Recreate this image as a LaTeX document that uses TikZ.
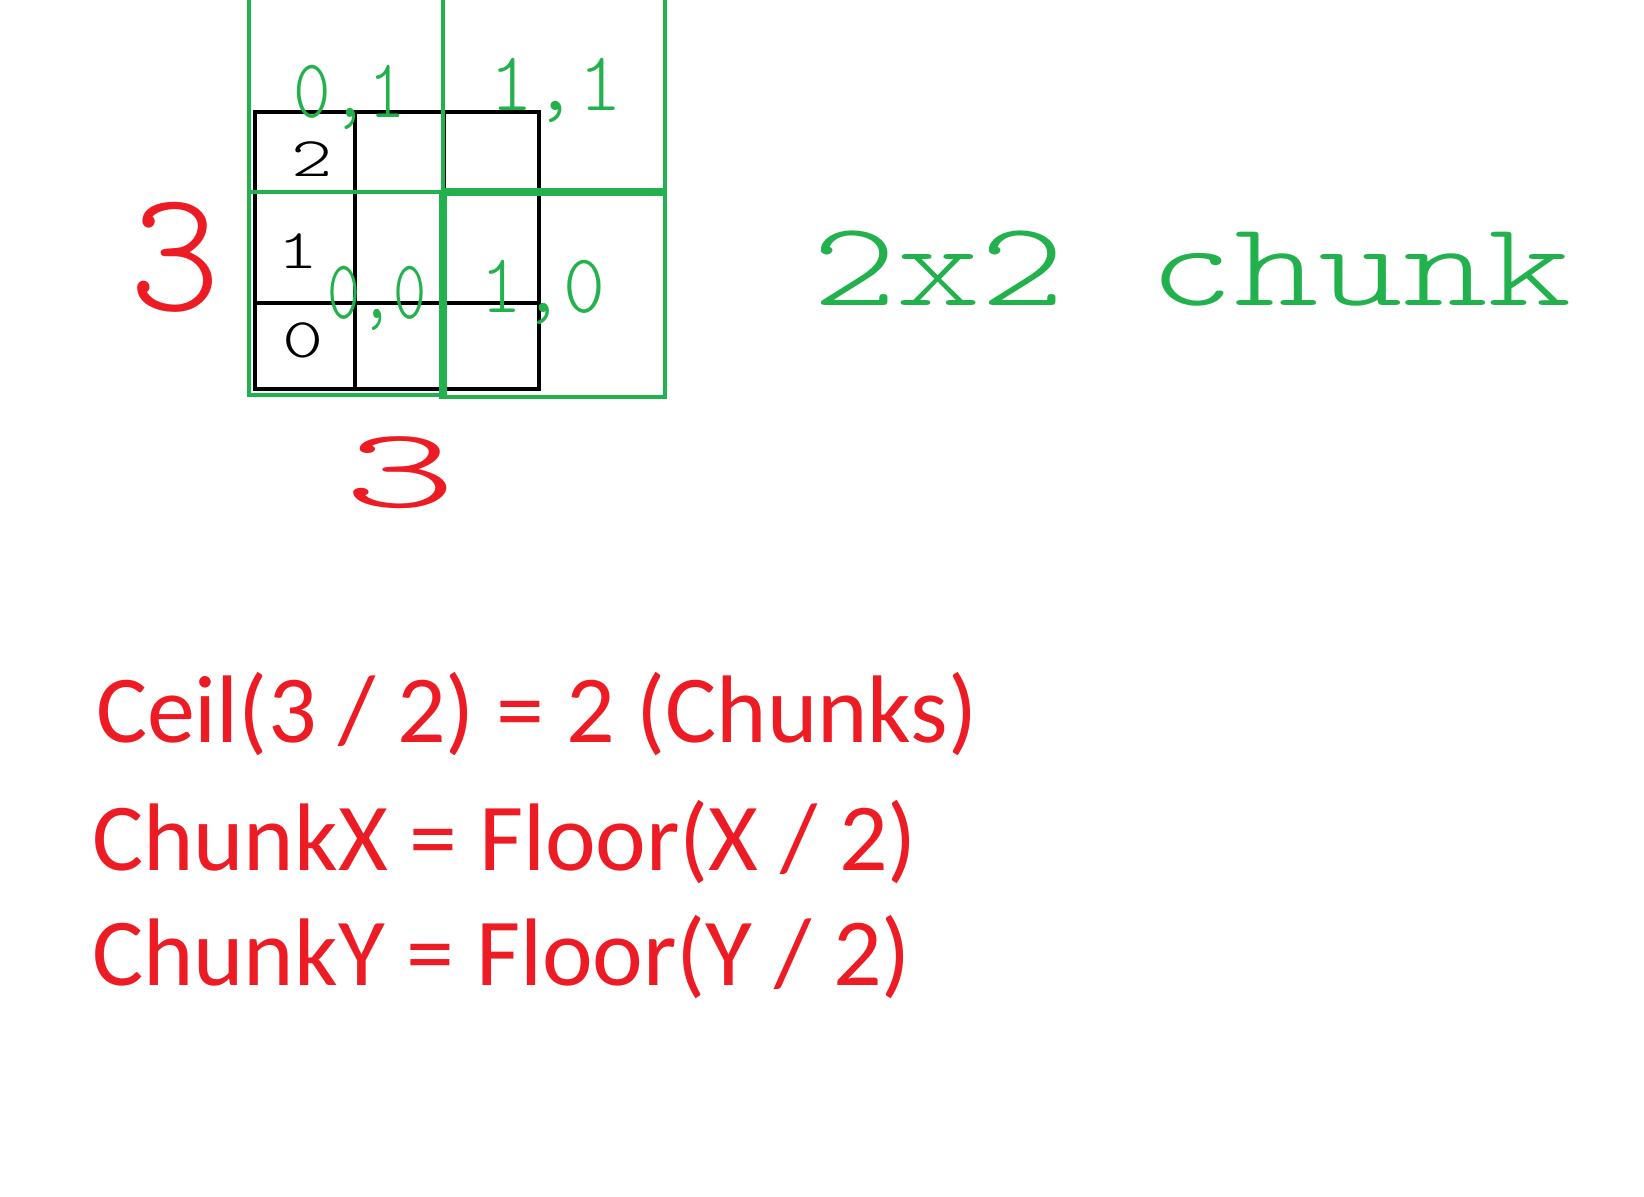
\documentclass[tikz,border=0pt]{standalone}
\usepackage{fontspec}
\setmainfont{Carlito}
\newfontfamily\handfont{lmmonolt10-regular}[Extension=.otf]
\usetikzlibrary{positioning}
\definecolor{paintred}{HTML}{ED1C24}
\definecolor{paintgreen}{HTML}{22B14C}

\begin{document}
\begin{tikzpicture}[
  x=0.5pt, y=-0.5pt,
  every node/.style={inner sep=0pt, outer sep=0pt},
  cellline/.style={draw=black, line width=2.2pt},
  chunkline/.style={draw=paintgreen, line width=2.4pt},
  thickchunk/.style={draw=paintgreen, line width=3.8pt},
  cellnum/.style={anchor=base, xscale=1.4,
    font=\handfont\fontsize{28}{28}\selectfont},
  chunknum/.style={anchor=base, text=paintgreen,
    font=\handfont\fontsize{42}{42}\selectfont},
  sizenum/.style={anchor=base, text=paintred, font=\handfont},
  formula/.style={anchor=base west, text=paintred,
    font=\fontsize{48}{58}\selectfont}
]

\fill[white] (0,0) rectangle (1644,1196);
\useasboundingbox (0,0) rectangle (1644,1196);

% cells
\draw[cellline] (255,112) rectangle (539,389);
\draw[cellline] (355,112) -- (355,389);
\draw[cellline] (444,112) -- (444,389);
\draw[cellline] (255,192) -- (539,192);
\draw[cellline] (255,303) -- (539,303);

% chunks
\draw[chunkline] (249,-5) -- (249,397);
\draw[chunkline] (443,-5) -- (443,192);
\draw[thickchunk] (443,192) -- (443,399);
\draw[chunkline] (665,-5) -- (665,399);
\draw[chunkline] (247,192) -- (443,192);
\draw[thickchunk] (443,192) -- (667,192);
\draw[chunkline] (247,395) -- (443,395);
\draw[chunkline] (443,397) -- (667,397);

\node[cellnum] (row2) at (312,176) {2};
\node[cellnum] (row1) at (298,268) {1};
\node[cellnum] (row0) at (303,357) {0};

\node[chunknum, xscale=0.85] (c01) at (350,117) {0,1};
\node[chunknum] (c11) at (556,110) {1,1};
\node[chunknum, xscale=0.75] (c00) at (377,318) {0,0};
\node[chunknum, xscale=0.95] (c10) at (543,312) {1,0};

\node[sizenum, font=\handfont\fontsize{87}{87}\selectfont] (height) at (175,310) {3};
\node[sizenum, xscale=1.9, font=\handfont\fontsize{57}{57}\selectfont] (width) at (400,507) {3};

\node[anchor=base, text=paintgreen, xscale=1.34,
  font=\handfont\fontsize{60}{60}\selectfont] (chunksize) at (1192,305) {2x2 chunk};

\node[formula] (ceil) at (96,742) {Ceil(3 / 2) = 2 (Chunks)};
\node[formula] (chunkx) at (92,870) {ChunkX = Floor(X / 2)};
\node[formula] (chunky) at (92,985) {ChunkY = Floor(Y / 2)};

\end{tikzpicture}
\end{document}
